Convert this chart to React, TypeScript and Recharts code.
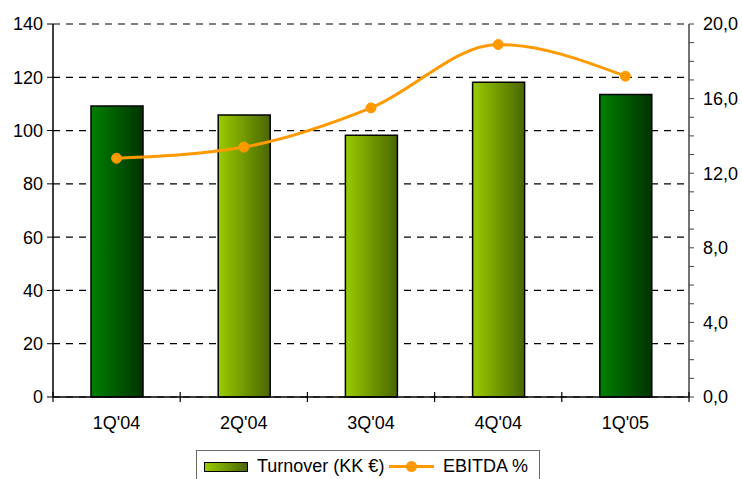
import React from "react";
import {
  ComposedChart,
  Bar,
  Line,
  Cell,
  XAxis,
  YAxis,
  CartesianGrid,
} from "recharts";

const quarters = ["1Q'04", "2Q'04", "3Q'04", "4Q'04", "1Q'05"];
const turnover = [109.2, 105.8, 98.2, 118.1, 113.5];
const ebitdaPct = [12.8, 13.4, 15.5, 18.9, 17.2];
const barShades = ["dark", "light", "light", "light", "dark"];
const leftTicks = [0, 20, 40, 60, 80, 100, 120, 140];
const rightTicks = [0, 1, 2, 3, 4, 5, 6, 7, 8, 9, 10, 11, 12, 13, 14, 15, 16, 17, 18, 19, 20];

const data = quarters.map((q, i) => ({
  quarter: q,
  turnover: turnover[i],
  ebitda: ebitdaPct[i],
  shade: barShades[i],
}));

const FONT = "'Liberation Sans', Arial, sans-serif";
const FS = 18;
const ORANGE = "#FF9900";
const X_GAP = 19;

function QuarterTick(props: any) {
  const { x, y, payload, index, visibleTicksCount } = props;
  const off = payload.offset ?? 0;
  const axisY = y - X_GAP;
  const last = index === visibleTicksCount - 1;
  return (
    <g>
      <line x1={x - off} x2={x - off} y1={axisY - 5} y2={axisY + 5} stroke="#000" strokeWidth={1.2} />
      {last && (
        <line x1={x + off} x2={x + off} y1={axisY - 5} y2={axisY + 5} stroke="#000" strokeWidth={1.2} />
      )}
      <text x={x} y={y} dy="0.71em" textAnchor="middle" fill="#000" fontSize={FS} fontFamily={FONT}>
        {payload.value}
      </text>
    </g>
  );
}

const pctFormat = (v: number) => (v % 4 === 0 ? v.toFixed(1).replace(".", ",") : "");

export default function App() {
  return (
    <div style={{ position: "relative", width: 742, height: 479, background: "#fff", overflow: "hidden" }}>
      <style>{`body{margin:0}`}</style>
      <svg width={0} height={0} style={{ position: "absolute" }}>
        <defs>
          <linearGradient id="gDark" x1="0" y1="0" x2="1" y2="0">
            <stop offset="0%" stopColor="#008000" />
            <stop offset="100%" stopColor="#003300" />
          </linearGradient>
          <linearGradient id="gLight" x1="0" y1="0" x2="1" y2="0">
            <stop offset="0%" stopColor="#99CC00" />
            <stop offset="100%" stopColor="#4A6600" />
          </linearGradient>
        </defs>
      </svg>
      <ComposedChart
        width={742}
        height={479}
        data={data}
        margin={{ top: 24, right: 0, left: 0, bottom: 40 }}
        style={{ fontFamily: FONT }}
      >
        <CartesianGrid
          yAxisId="left"
          vertical={false}
          stroke="#000"
          strokeWidth={1.2}
          strokeDasharray="7 6"
        />
        <XAxis
          dataKey="quarter"
          height={42}
          tickSize={0}
          tickMargin={X_GAP}
          tickLine={false}
          axisLine={{ stroke: "#000", strokeWidth: 1.5 }}
          tick={<QuarterTick />}
          interval={0}
        />
        <YAxis
          yAxisId="left"
          width={53}
          domain={[0, 140]}
          ticks={leftTicks}
          interval={0}
          tickSize={6}
          tickMargin={4}
          axisLine={{ stroke: "#000", strokeWidth: 1.5 }}
          tickLine={{ stroke: "#000" }}
          tick={{ fill: "#000", fontSize: FS, fontFamily: FONT }}
        />
        <YAxis
          yAxisId="right"
          orientation="right"
          width={53}
          domain={[0, 20]}
          ticks={rightTicks}
          interval={0}
          tickSize={5}
          tickMargin={9}
          tickFormatter={pctFormat}
          axisLine={{ stroke: "#444", strokeWidth: 1.5 }}
          tickLine={{ stroke: "#444" }}
          tick={{ fill: "#000", fontSize: FS, fontFamily: FONT }}
        />
        <Bar
          yAxisId="left"
          dataKey="turnover"
          barSize={52}
          stroke="#000"
          strokeWidth={1.5}
          isAnimationActive={false}
        >
          {data.map((d, i) => (
            <Cell key={i} fill={d.shade === "dark" ? "url(#gDark)" : "url(#gLight)"} />
          ))}
        </Bar>
        <Line
          yAxisId="right"
          dataKey="ebitda"
          type="monotone"
          stroke={ORANGE}
          strokeWidth={3}
          dot={{ r: 5, fill: ORANGE, stroke: ORANGE, strokeWidth: 1 }}
          activeDot={false}
          isAnimationActive={false}
        />
      </ComposedChart>
      <div
        style={{
          position: "absolute",
          left: 196,
          top: 450,
          width: 344,
          height: 40,
          border: "1px solid #666",
          boxSizing: "border-box",
          fontFamily: FONT,
          fontSize: FS,
          color: "#000",
        }}
      >
        <div
          style={{
            position: "absolute",
            left: 7,
            top: 11,
            width: 44,
            height: 10,
            border: "1.5px solid #000",
            boxSizing: "border-box",
            background: "linear-gradient(to right, #99CC00, #4A6600)",
          }}
        />
        <div style={{ position: "absolute", left: 60, top: 5, whiteSpace: "nowrap" }}>Turnover (KK €)</div>
        <div style={{ position: "absolute", left: 192, top: 14, width: 45, height: 3, background: ORANGE }} />
        <div
          style={{
            position: "absolute",
            left: 209,
            top: 10,
            width: 11,
            height: 11,
            borderRadius: "50%",
            background: ORANGE,
          }}
        />
        <div style={{ position: "absolute", left: 246, top: 5, whiteSpace: "nowrap" }}>EBITDA %</div>
      </div>
    </div>
  );
}
